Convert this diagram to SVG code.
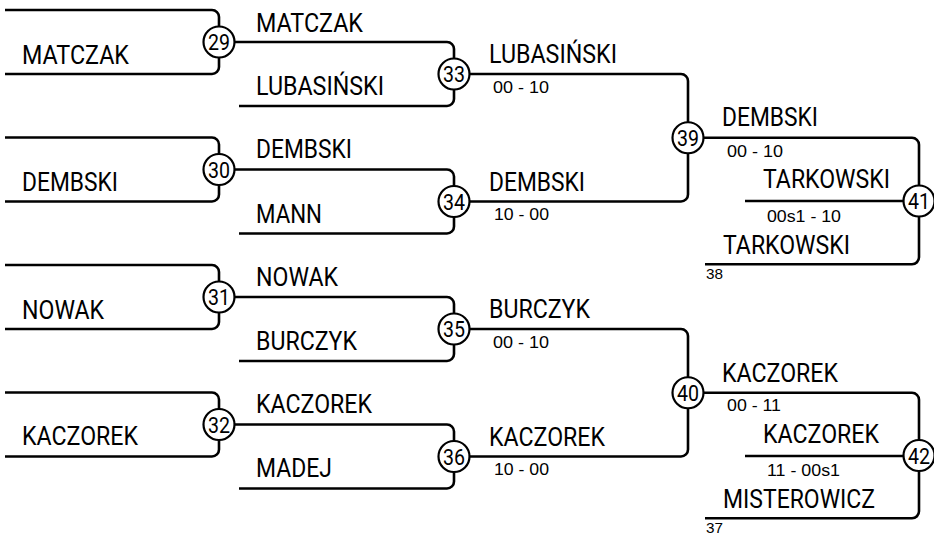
<svg xmlns="http://www.w3.org/2000/svg" width="934" height="533" viewBox="0 0 934 533">
<style>
.ln{fill:none;stroke:#000;stroke-width:2.6;stroke-linecap:butt}
.c{fill:#fff;stroke:#000;stroke-width:2.2}
.n{font-family:Roboto,"Liberation Sans",sans-serif;font-size:22.5px;text-anchor:middle;fill:#000}
.nm{font-family:Roboto,"Liberation Sans",sans-serif;font-size:25px;fill:#000}
.sc{font-family:"Liberation Sans",Arial,sans-serif;font-size:16px;fill:#000}
.sm{font-family:"Liberation Sans",Arial,sans-serif;font-size:14px;fill:#000}
</style>
<rect width="934" height="533" fill="#fff"/>
<g id="connectors">
<path class="ln" d="M5 10H212A7 7 0 0 1 219 17V67A7 7 0 0 1 212 74H5"/>
<path class="ln" d="M5 137.5H212A7 7 0 0 1 219 144.5V194.5A7 7 0 0 1 212 201.5H5"/>
<path class="ln" d="M5 265H212A7 7 0 0 1 219 272V322A7 7 0 0 1 212 329H5"/>
<path class="ln" d="M5 392.5H212A7 7 0 0 1 219 399.5V449.5A7 7 0 0 1 212 456.5H5"/>
<path class="ln" d="M219 42H447A7 7 0 0 1 454 49V99A7 7 0 0 1 447 106H239"/>
<path class="ln" d="M219 169.5H447A7 7 0 0 1 454 176.5V226.5A7 7 0 0 1 447 233.5H239"/>
<path class="ln" d="M219 297H447A7 7 0 0 1 454 304V354A7 7 0 0 1 447 361H239"/>
<path class="ln" d="M219 424.5H447A7 7 0 0 1 454 431.5V481.5A7 7 0 0 1 447 488.5H239"/>
<path class="ln" d="M454 74H681A7 7 0 0 1 688 81V194.5A7 7 0 0 1 681 201.5H454"/>
<path class="ln" d="M454 329H681A7 7 0 0 1 688 336V449.5A7 7 0 0 1 681 456.5H454"/>
<path class="ln" d="M688 137.75H912A7 7 0 0 1 919 144.75V257.3A7 7 0 0 1 912 264.3H705"/>
<path class="ln" d="M745 201H919"/>
<path class="ln" d="M688 392.75H912A7 7 0 0 1 919 399.75V511.3A7 7 0 0 1 912 518.3H705"/>
<path class="ln" d="M745 456H919"/>
</g>
<g id="labels">
<text class="nm" x="22" y="64" textLength="107" lengthAdjust="spacingAndGlyphs">MATCZAK</text>
<text class="nm" x="22" y="191" textLength="96" lengthAdjust="spacingAndGlyphs">DEMBSKI</text>
<text class="nm" x="22" y="318.5" textLength="82" lengthAdjust="spacingAndGlyphs">NOWAK</text>
<text class="nm" x="22" y="445" textLength="116" lengthAdjust="spacingAndGlyphs">KACZOREK</text>
<text class="nm" x="256" y="32" textLength="107" lengthAdjust="spacingAndGlyphs">MATCZAK</text>
<text class="nm" x="256" y="94.5" textLength="128" lengthAdjust="spacingAndGlyphs">LUBASIŃSKI</text>
<text class="nm" x="256" y="158" textLength="96" lengthAdjust="spacingAndGlyphs">DEMBSKI</text>
<text class="nm" x="256" y="222.5" textLength="66" lengthAdjust="spacingAndGlyphs">MANN</text>
<text class="nm" x="256" y="286" textLength="82" lengthAdjust="spacingAndGlyphs">NOWAK</text>
<text class="nm" x="256" y="349.5" textLength="101" lengthAdjust="spacingAndGlyphs">BURCZYK</text>
<text class="nm" x="256" y="413" textLength="116" lengthAdjust="spacingAndGlyphs">KACZOREK</text>
<text class="nm" x="256" y="477" textLength="76" lengthAdjust="spacingAndGlyphs">MADEJ</text>
<text class="nm" x="489" y="63" textLength="128" lengthAdjust="spacingAndGlyphs">LUBASIŃSKI</text>
<text class="sc" x="493" y="92.5" textLength="56" lengthAdjust="spacingAndGlyphs">00 - 10</text>
<text class="nm" x="489" y="190.5" textLength="96" lengthAdjust="spacingAndGlyphs">DEMBSKI</text>
<text class="sc" x="494" y="220" textLength="55" lengthAdjust="spacingAndGlyphs">10 - 00</text>
<text class="nm" x="489" y="318" textLength="101" lengthAdjust="spacingAndGlyphs">BURCZYK</text>
<text class="sc" x="493" y="347.5" textLength="56" lengthAdjust="spacingAndGlyphs">00 - 10</text>
<text class="nm" x="489" y="445.5" textLength="116" lengthAdjust="spacingAndGlyphs">KACZOREK</text>
<text class="sc" x="494" y="475" textLength="55" lengthAdjust="spacingAndGlyphs">10 - 00</text>
<text class="nm" x="722" y="126" textLength="96" lengthAdjust="spacingAndGlyphs">DEMBSKI</text>
<text class="sc" x="727" y="156.5" textLength="56" lengthAdjust="spacingAndGlyphs">00 - 10</text>
<text class="nm" x="763" y="188" textLength="127" lengthAdjust="spacingAndGlyphs">TARKOWSKI</text>
<text class="sc" x="767" y="221.5" textLength="74" lengthAdjust="spacingAndGlyphs">00s1 - 10</text>
<text class="nm" x="723" y="254" textLength="127" lengthAdjust="spacingAndGlyphs">TARKOWSKI</text>
<text class="sm" x="706" y="279" textLength="17" lengthAdjust="spacingAndGlyphs">38</text>
<text class="nm" x="722" y="381.5" textLength="116" lengthAdjust="spacingAndGlyphs">KACZOREK</text>
<text class="sc" x="727" y="411" textLength="54" lengthAdjust="spacingAndGlyphs">00 - 11</text>
<text class="nm" x="763" y="443" textLength="116" lengthAdjust="spacingAndGlyphs">KACZOREK</text>
<text class="sc" x="767" y="476" textLength="73" lengthAdjust="spacingAndGlyphs">11 - 00s1</text>
<text class="nm" x="723" y="507.5" textLength="152" lengthAdjust="spacingAndGlyphs">MISTEROWICZ</text>
<text class="sm" x="706" y="532.5" textLength="17" lengthAdjust="spacingAndGlyphs">37</text>
</g>
<g id="m29"><circle class="c" cx="219" cy="42" r="15.5"/><text class="n" x="219" y="50" textLength="22" lengthAdjust="spacingAndGlyphs">29</text></g>
<g id="m30"><circle class="c" cx="219" cy="169.5" r="15.5"/><text class="n" x="219" y="177.5" textLength="22" lengthAdjust="spacingAndGlyphs">30</text></g>
<g id="m31"><circle class="c" cx="219" cy="297" r="15.5"/><text class="n" x="219" y="305" textLength="22" lengthAdjust="spacingAndGlyphs">31</text></g>
<g id="m32"><circle class="c" cx="219" cy="424.5" r="15.5"/><text class="n" x="219" y="432.5" textLength="22" lengthAdjust="spacingAndGlyphs">32</text></g>
<g id="m33"><circle class="c" cx="454" cy="74" r="15.5"/><text class="n" x="454" y="82" textLength="22" lengthAdjust="spacingAndGlyphs">33</text></g>
<g id="m34"><circle class="c" cx="454" cy="201.5" r="15.5"/><text class="n" x="454" y="209.5" textLength="22" lengthAdjust="spacingAndGlyphs">34</text></g>
<g id="m35"><circle class="c" cx="454" cy="329" r="15.5"/><text class="n" x="454" y="337" textLength="22" lengthAdjust="spacingAndGlyphs">35</text></g>
<g id="m36"><circle class="c" cx="454" cy="456.5" r="15.5"/><text class="n" x="454" y="464.5" textLength="22" lengthAdjust="spacingAndGlyphs">36</text></g>
<g id="m39"><circle class="c" cx="688" cy="137.75" r="15.5"/><text class="n" x="688" y="145.75" textLength="22" lengthAdjust="spacingAndGlyphs">39</text></g>
<g id="m40"><circle class="c" cx="688" cy="392.75" r="15.5"/><text class="n" x="688" y="400.75" textLength="22" lengthAdjust="spacingAndGlyphs">40</text></g>
<g id="m41"><circle class="c" cx="919" cy="201" r="15.5"/><text class="n" x="919" y="209" textLength="22" lengthAdjust="spacingAndGlyphs">41</text></g>
<g id="m42"><circle class="c" cx="919" cy="455.5" r="15.5"/><text class="n" x="919" y="463.5" textLength="22" lengthAdjust="spacingAndGlyphs">42</text></g>
</svg>
